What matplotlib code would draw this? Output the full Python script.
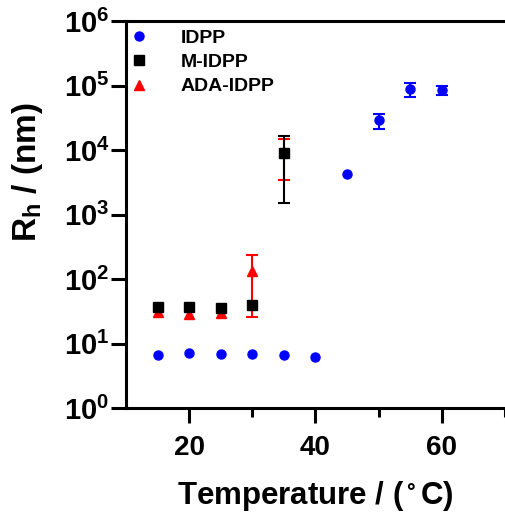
import matplotlib
matplotlib.use("Agg")
import matplotlib.pyplot as plt
import numpy as np

plt.rcParams['font.family'] = ['Liberation Sans', 'DejaVu Sans']
plt.rcParams['font.weight'] = 'bold'
plt.rcParams['mathtext.fontset'] = 'custom'
plt.rcParams['mathtext.rm'] = 'Liberation Sans:bold'
plt.rcParams['mathtext.it'] = 'Liberation Sans:bold'
plt.rcParams['mathtext.bf'] = 'Liberation Sans:bold'

# data
idpp_T = [15, 20, 25, 30, 35, 40, 45, 50, 55, 60]
idpp_R = [6.75, 7.05, 6.9, 7.0, 6.75, 6.3, 4250, 29000, 88000, 85000]
idpp_err = [0, 0, 0, 0, 0, 0, 0, 7700, 22000, 13000]

midpp_T = [15, 20, 25, 30, 35]
midpp_R = [37, 37, 35.8, 39, 9000]
midpp_err = [0, 0, 0, 0, 7500]

ada_T = [15, 20, 25, 30, 35]
ada_R = [31, 29, 29.5, 133, 9200]
ada_err = [0, 0, 0, 107, 5800]

fig = plt.figure(figsize=(5.06, 5.14), dpi=100)
ax = fig.add_axes([0.249, 0.206, 0.749, 0.753])

def draw(ax, T, R, err, color, marker, ms, label):
    T = np.array(T); R = np.array(R); err = np.array(err)
    m = err > 0
    ax.errorbar(T[m], R[m], yerr=err[m], fmt='none', ecolor=color,
                elinewidth=1.5, capsize=4, capthick=1.5)
    ax.plot(T, R, linestyle='none', marker=marker, color=color,
            markersize=ms, label=label)

draw(ax, idpp_T, idpp_R, idpp_err, '#0000ff', 'o', 6.5, 'IDPP')
draw(ax, ada_T, ada_R, ada_err, '#ff0000', '^', 6.5, 'ADA-IDPP')
draw(ax, midpp_T, midpp_R, midpp_err, '#000000', 's', 6.5, 'M-IDPP')

ax.set_yscale('log')
ax.set_ylim(1, 1e6)
ax.set_xlim(10, 70)
ax.set_yticks([10.0**k for k in range(7)])
ax.set_yticklabels([r'$\mathregular{10^{%d}}$' % k for k in range(7)])
ax.yaxis.set_minor_locator(matplotlib.ticker.NullLocator())
ax.set_xticks([20, 40, 60])
ax.set_xticks([30, 50, 70], minor=True)

for s in ['left', 'top', 'bottom']:
    ax.spines[s].set_linewidth(2.2)
ax.spines['right'].set_visible(False)

ax.tick_params(axis='both', which='major', direction='out', width=2.2)
ax.tick_params(axis='x', which='major', length=11, pad=8.5, labelsize=20)
ax.tick_params(axis='x', which='minor', length=6.5, width=2.2)
ax.tick_params(axis='y', which='major', length=11, pad=1, labelsize=21)

ax.set_xlabel(r'Temperature / ($\mathregular{^\circ}$C)', fontsize=22.5,
              fontweight='bold', va='center')
ax.xaxis.set_label_coords(0.5, -0.227)
ax.set_ylabel(r'$\mathregular{R_h}$ / (nm)', fontsize=24,
              fontweight='bold', va='center')
ax.yaxis.set_label_coords(-0.26, 0.61)

h, l = ax.get_legend_handles_labels()
order = [0, 2, 1]
ax.legend([h[i] for i in order], [l[i] for i in order], loc='upper left',
          bbox_to_anchor=(-0.037, 1.025), frameon=False, fontsize=14,
          handlelength=1.0, handletextpad=1.65, labelspacing=0.35)

fig.savefig('out.png', dpi=100)
